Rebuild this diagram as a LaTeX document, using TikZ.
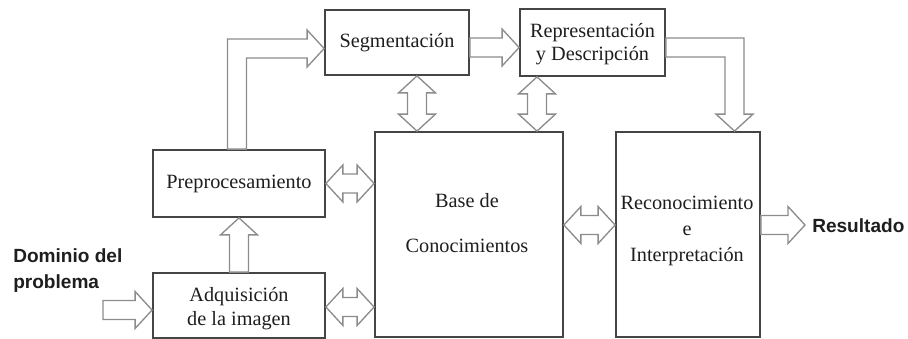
\documentclass[tikz,border=0pt]{standalone}
\usepackage{fontspec}
\setmainfont{Liberation Serif}
\newfontfamily\lblfont{Liberation Sans}
\usetikzlibrary{calc}
\definecolor{boxline}{HTML}{454545}
\definecolor{arrline}{HTML}{8C8C8C}
\definecolor{txtcol}{HTML}{1E1E1E}
\def\sw{7.125pt}
\def\hw{13.875pt}
\def\hl{12.75pt}
% single arrow pointing right, from #1 to #2 (y taken from #1)
\newcommand\arrR[2]{\draw[blk] let \p1=(#1), \p2=(#2) in
  (\x1,\y1+\sw) -- (\x2-\hl,\y1+\sw) -- (\x2-\hl,\y1+\hw) -- (\x2,\y1) --
  (\x2-\hl,\y1-\hw) -- (\x2-\hl,\y1-\sw) -- (\x1,\y1-\sw) -- cycle;}
% double horizontal arrow, #1 left, #2 right (y from #1)
\newcommand\arrLR[2]{\draw[blk] let \p1=(#1), \p2=(#2) in
  (\x1,\y1) -- (\x1+\hl,\y1+\hw) -- (\x1+\hl,\y1+\sw) -- (\x2-\hl,\y1+\sw) --
  (\x2-\hl,\y1+\hw) -- (\x2,\y1) -- (\x2-\hl,\y1-\hw) -- (\x2-\hl,\y1-\sw) --
  (\x1+\hl,\y1-\sw) -- (\x1+\hl,\y1-\hw) -- cycle;}
% double vertical arrow, #1 top, #2 bottom (x from #1)
\newcommand\arrUD[2]{\draw[blk] let \p1=(#1), \p2=(#2) in
  (\x1,\y1) -- (\x1+\hw,\y1-\hl) -- (\x1+\sw,\y1-\hl) -- (\x1+\sw,\y2+\hl) --
  (\x1+\hw,\y2+\hl) -- (\x1,\y2) -- (\x1-\hw,\y2+\hl) -- (\x1-\sw,\y2+\hl) --
  (\x1-\sw,\y1-\hl) -- (\x1-\hw,\y1-\hl) -- cycle;}
% single vertical arrow up, from #1 (bottom) to #2 (tip, top), x from #1
\newcommand\arrU[2]{\draw[blk] let \p1=(#1), \p2=(#2) in
  (\x1-\sw,\y1) -- (\x1-\sw,\y2-\hl) -- (\x1-\hw,\y2-\hl) -- (\x1,\y2) --
  (\x1+\hw,\y2-\hl) -- (\x1+\sw,\y2-\hl) -- (\x1+\sw,\y1) -- cycle;}
\tikzset{
  box/.style={draw=boxline, line width=1.35pt, fill=white, inner sep=0pt,
    font=\fontsize{15.2}{17.5}\selectfont, text=txtcol, align=center},
  blk/.style={draw=arrline, line width=1pt, fill=white, line join=miter},
  txt/.style={inner sep=0pt, font=\fontsize{15.2}{17.5}\selectfont, text=txtcol, align=center},
  lbl/.style={inner sep=0pt, font=\lblfont\bfseries\fontsize{14.3}{19.5}\selectfont, text=txtcol, align=left}
}
\begin{document}
\begin{tikzpicture}[x=0.75pt,y=-0.75pt]
\useasboundingbox (0,0) rectangle (908,339);
% boxes
\node[box, minimum width=144*0.75pt, minimum height=65*0.75pt] (seg) at (397,42.5) {Segmentación};
\node[box, minimum width=145*0.75pt, minimum height=67*0.75pt] (rep) at (592.5,42.5) {};
\node[txt, font=\fontsize{15.2}{17.25}\selectfont] (reptxt) at (592.5,44.5) {Representación\\y Descripción};
\node[box, minimum width=172*0.75pt, minimum height=67*0.75pt] (pre) at (239,183.5) {Preprocesamiento};
\node[box, minimum width=172*0.75pt, minimum height=65*0.75pt] (adq) at (239,305.5) {};
\node[txt, font=\fontsize{15.2}{18}\selectfont] (adqtxt) at (239,308.5) {Adquisición\\de la imagen};
\node[box, minimum width=188*0.75pt, minimum height=205*0.75pt] (base) at (469,234.5) {};
\node[txt, font=\fontsize{15.2}{34}\selectfont] (basetxt) at (467,223) {Base de\\Conocimientos};
\node[box, minimum width=144*0.75pt, minimum height=205*0.75pt] (rec) at (688,234.5) {};
\node[txt, font=\fontsize{15.2}{19.5}\selectfont] (rectxt) at (687,231) {Reconocimiento\\e\\Interpretación};
% labels
\node[lbl, anchor=west] (dom) at (13,271) {Dominio del\\problema};
\node[lbl, anchor=west] (res) at (812,226) {Resultado};
\coordinate (domend) at (103,310);
\coordinate (resend) at (805,225);
% arrows
\arrR{domend}{adq.west}
\arrU{adq.north}{pre.south}
\arrLR{pre.east}{base.west}
\arrLR{$(adq.east)+(0,1.5)$}{base.west}
\arrUD{$(seg.south)+(20,0)$}{base.north}
\arrUD{$(rep.south)+(-55.5,0)$}{base.north}
\arrR{$(seg.east)+(0,5)$}{rep.west}
\arrLR{$(base.east)+(0,-9.5)$}{rec.west}
\arrR{$(rec.east)+(0,-9.5)$}{resend}
% elbow: Preprocesamiento -> Segmentacion
\draw[blk] let \p1=($(pre.north)+(-2,0)$), \p2=($(seg.west)+(0,6)$) in
  (\x1-\sw,\y1) -- (\x1-\sw,\y2+\sw) -- (\x2-\hl,\y2+\sw) -- (\x2-\hl,\y2+\hw) --
  (\x2,\y2) -- (\x2-\hl,\y2-\hw) -- (\x2-\hl,\y2-\sw) -- (\x1+\sw,\y2-\sw) --
  (\x1+\sw,\y1) -- cycle;
% elbow: Representacion -> Reconocimiento
\draw[blk] let \p1=($(rep.east)+(0,5)$), \p2=($(rec.north)+(46.5,0)$) in
  (\x1,\y1+\sw) -- (\x2+\sw,\y1+\sw) -- (\x2+\sw,\y2+\hl) -- (\x2+\hw,\y2+\hl) --
  (\x2,\y2) -- (\x2-\hw,\y2+\hl) -- (\x2-\sw,\y2+\hl) -- (\x2-\sw,\y1-\sw) --
  (\x1,\y1-\sw) -- cycle;
\end{tikzpicture}
\end{document}
